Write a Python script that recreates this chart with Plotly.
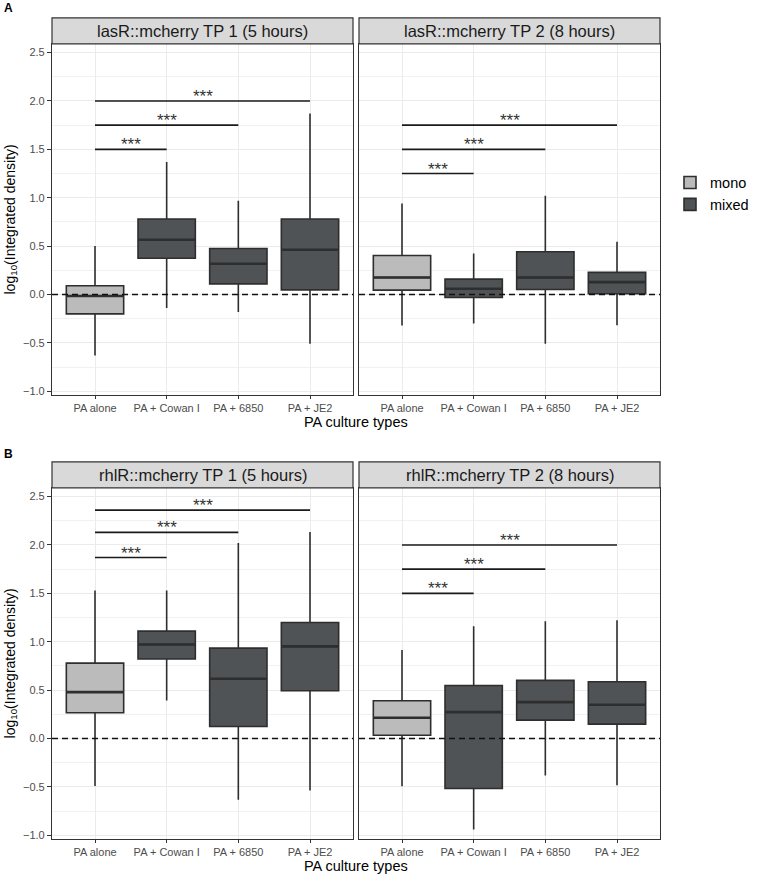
import plotly.graph_objects as go

W, H = 759, 878

# ---------------- data ----------------
categories = ["PA alone", "PA + Cowan I", "PA + 6850", "PA + JE2"]
culture = ["mono", "mixed", "mixed", "mixed"]

panel_titles = ["lasR::mcherry TP 1 (5 hours)", "lasR::mcherry TP 2 (8 hours)",
                "rhlR::mcherry TP 1 (5 hours)", "rhlR::mcherry TP 2 (8 hours)"]

lasR_tp1_lower = [-0.63, -0.14, -0.18, -0.51]
lasR_tp1_q1 = [-0.20, 0.375, 0.11, 0.048]
lasR_tp1_median = [-0.015, 0.566, 0.317, 0.462]
lasR_tp1_q3 = [0.09, 0.78, 0.476, 0.78]
lasR_tp1_upper = [0.50, 1.37, 0.97, 1.87]

lasR_tp2_lower = [-0.32, -0.30, -0.51, -0.317]
lasR_tp2_q1 = [0.045, -0.031, 0.052, 0.007]
lasR_tp2_median = [0.176, 0.059, 0.176, 0.128]
lasR_tp2_q3 = [0.403, 0.159, 0.441, 0.228]
lasR_tp2_upper = [0.94, 0.424, 1.02, 0.545]

rhlR_tp1_lower = [-0.49, 0.393, -0.634, -0.538]
rhlR_tp1_q1 = [0.266, 0.821, 0.124, 0.493]
rhlR_tp1_median = [0.479, 0.972, 0.617, 0.952]
rhlR_tp1_q3 = [0.779, 1.11, 0.934, 1.199]
rhlR_tp1_upper = [1.53, 1.53, 2.02, 2.134]

rhlR_tp2_lower = [-0.493, -0.941, -0.383, -0.483]
rhlR_tp2_q1 = [0.034, -0.517, 0.19, 0.148]
rhlR_tp2_median = [0.214, 0.272, 0.376, 0.348]
rhlR_tp2_q3 = [0.39, 0.548, 0.6, 0.586]
rhlR_tp2_upper = [0.914, 1.16, 1.212, 1.223]

# significance brackets: PA alone (index 0) vs index in sig_ends
sig_ends = [1, 2, 3]
lasR_tp1_sig_y = [1.5, 1.75, 2.0]
lasR_tp2_sig_y = [1.25, 1.5, 1.75]
rhlR_tp1_sig_y = [1.87, 2.13, 2.36]
rhlR_tp2_sig_y = [1.5, 1.75, 2.0]
sig_label = "***"

y_ticks = [-1.0, -0.5, 0.0, 0.5, 1.0, 1.5, 2.0, 2.5]

panels = [
    (lasR_tp1_lower, lasR_tp1_q1, lasR_tp1_median, lasR_tp1_q3, lasR_tp1_upper, lasR_tp1_sig_y),
    (lasR_tp2_lower, lasR_tp2_q1, lasR_tp2_median, lasR_tp2_q3, lasR_tp2_upper, lasR_tp2_sig_y),
    (rhlR_tp1_lower, rhlR_tp1_q1, rhlR_tp1_median, rhlR_tp1_q3, rhlR_tp1_upper, rhlR_tp1_sig_y),
    (rhlR_tp2_lower, rhlR_tp2_q1, rhlR_tp2_median, rhlR_tp2_q3, rhlR_tp2_upper, rhlR_tp2_sig_y),
]

# ---------------- style ----------------
FONT = "Liberation Sans, Arial, sans-serif"
fill_colors = {"mono": "#BBBBBB", "mixed": "#4F5355"}
edge = "#2E2E2E"
BOX_W = 0.8

# panel geometry in pixels (left, right, top, bottom)
cols_px = [(52, 353), (359, 660)]
rows_px = [(44, 396), (489, 841)]
strip_h = 26


def px_x(p):
    return p / W


def px_y(p):
    return 1 - p / H


fig = go.Figure()
layout = {}
shapes = []
annotations = []

for i, (lo, q1, med, q3, up, sig_y) in enumerate(panels):
    r, c = divmod(i, 2)
    sfx = "" if i == 0 else str(i + 1)
    xa, ya = "x" + sfx, "y" + sfx
    xl, xr = cols_px[c]
    yt, yb = rows_px[r]

    for grp in ["mono", "mixed"]:
        idx = [k for k in range(len(categories)) if culture[k] == grp]
        fig.add_trace(go.Box(
            x=idx,
            q1=[q1[k] for k in idx], median=[med[k] for k in idx], q3=[q3[k] for k in idx],
            lowerfence=[lo[k] for k in idx], upperfence=[up[k] for k in idx],
            width=BOX_W, whiskerwidth=0, boxpoints=False,
            fillcolor=fill_colors[grp], line=dict(color=edge, width=1.6),
            name=grp, legendgroup=grp, showlegend=(i == 0),
            xaxis=xa, yaxis=ya, hoverinfo="skip",
        ))

    # thicker median bars (ggplot style)
    mx, my = [], []
    for k in range(len(categories)):
        mx += [k - BOX_W / 2, k + BOX_W / 2, None]
        my += [med[k], med[k], None]
    fig.add_trace(go.Scatter(x=mx, y=my, mode="lines", line=dict(color=edge, width=2.6),
                             showlegend=False, xaxis=xa, yaxis=ya, hoverinfo="skip"))

    # significance brackets
    for e, yv in zip(sig_ends, sig_y):
        fig.add_trace(go.Scatter(
            x=[0, e], y=[yv, yv], mode="lines",
            line=dict(color="#1A1A1A", width=1.6),
            showlegend=False, xaxis=xa, yaxis=ya, hoverinfo="skip",
        ))
        annotations.append(dict(
            x=e / 2, y=yv, xref=xa, yref=ya, text=sig_label, showarrow=False,
            yanchor="bottom", yshift=-7, font=dict(family=FONT, size=17, color="#333333"),
        ))

    # dashed zero line
    shapes.append(dict(type="line", xref=xa + " domain", yref=ya, x0=0, x1=1, y0=0, y1=0,
                       line=dict(color="#111111", width=1.5, dash="6px,4px"), layer="above"))

    layout["xaxis" + sfx] = dict(
        domain=[px_x(xl), px_x(xr)], anchor=ya, range=[-0.6, 3.6],
        tickvals=list(range(len(categories))), ticktext=categories,
        showgrid=True, gridcolor="#EBEBEB", gridwidth=1.2, zeroline=False,
        showline=True, mirror=True, linecolor="#333333", linewidth=1.2,
        ticks="outside", ticklen=3, tickcolor="#333333", tickwidth=1,
        tickfont=dict(family=FONT, size=11, color="#4D4D4D"),
    )
    layout["yaxis" + sfx] = dict(
        domain=[px_y(yb), px_y(yt)], anchor=xa, range=[-1.04, 2.59],
        tickvals=y_ticks, ticktext=[f"{v:.1f}".replace("-", "\u2212") for v in y_ticks],
        showticklabels=(c == 0), ticks="outside" if c == 0 else "", ticklen=4,
        tickcolor="#333333", tickwidth=1,
        showgrid=True, gridcolor="#EBEBEB", gridwidth=1.2, zeroline=False,
        minor=dict(tickvals=[v + 0.25 for v in y_ticks], showgrid=True,
                   gridcolor="#F1F1F1", gridwidth=0.8),
        showline=True, mirror=True, linecolor="#333333", linewidth=1.2,
        tickfont=dict(family=FONT, size=11, color="#4D4D4D"),
    )

    # strip
    shapes.append(dict(type="rect", xref="paper", yref="paper",
                       x0=px_x(xl), x1=px_x(xr), y0=px_y(yt), y1=px_y(yt - strip_h),
                       fillcolor="#D9D9D9", line=dict(color="#333333", width=1.2)))
    annotations.append(dict(x=px_x((xl + xr) / 2), y=px_y(yt - strip_h / 2), xref="paper", yref="paper",
                            text=panel_titles[i], showarrow=False, xanchor="center", yanchor="middle",
                            font=dict(family=FONT, size=16.5, color="#1A1A1A")))

# axis titles and panel letters
for r, (yt, yb) in enumerate(rows_px):
    annotations.append(dict(x=px_x(11), y=px_y((yt + yb) / 2), xref="paper", yref="paper",
                            text="log<sub>10</sub>(Integrated density)", textangle=-90, showarrow=False,
                            xanchor="center", yanchor="middle",
                            font=dict(family=FONT, size=14, color="#000000")))
    annotations.append(dict(x=px_x(356), y=px_y(yb + 26.5), xref="paper", yref="paper",
                            text="PA culture types", showarrow=False, xanchor="center", yanchor="middle",
                            borderpad=0,
                            font=dict(family=FONT, size=14.5, color="#000000")))
annotations.append(dict(x=px_x(2), y=px_y(8), xref="paper", yref="paper", text="<b>A</b>",
                        showarrow=False, xanchor="left", yanchor="middle",
                        font=dict(family=FONT, size=12, color="#000000")))
annotations.append(dict(x=px_x(2), y=px_y(455), xref="paper", yref="paper", text="<b>B</b>",
                        showarrow=False, xanchor="left", yanchor="middle",
                        font=dict(family=FONT, size=12, color="#000000")))

fig.update_layout(
    width=W, height=H, margin=dict(l=0, r=0, t=0, b=0),
    paper_bgcolor="white", plot_bgcolor="white",
    boxmode="overlay",
    showlegend=True,
    legend=dict(x=px_x(670), y=px_y(167), xanchor="left", yanchor="top",
                font=dict(family=FONT, size=14.5, color="#000000"),
                bgcolor="rgba(0,0,0,0)", tracegroupgap=0),
    shapes=shapes, annotations=annotations,
    **layout,
)

fig.write_html(
    "out.html",
    config={"displayModeBar": False},
    post_script="document.body.style.margin='0px';document.body.style.overflow='hidden';",
)
